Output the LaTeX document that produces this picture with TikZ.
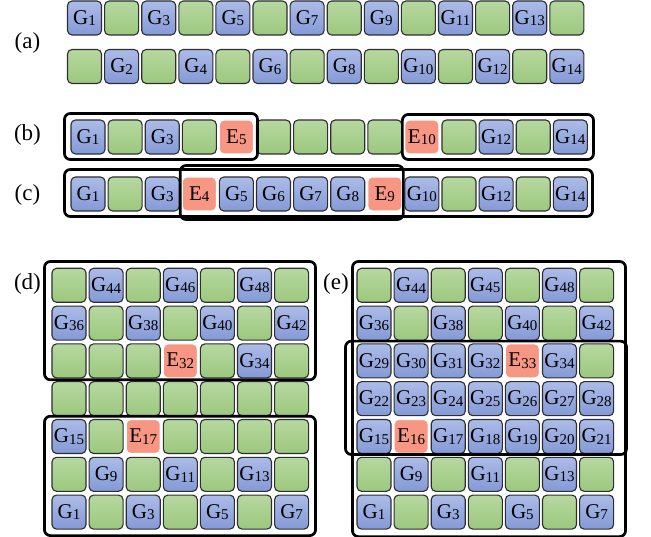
\documentclass[tikz,border=0pt]{standalone}
\usepackage{fontspec}
\setmainfont{Liberation Serif}
\definecolor{gtop}{RGB}{172,188,232}
\definecolor{gbot}{RGB}{132,153,214}
\definecolor{ntop}{RGB}{182,216,160}
\definecolor{nbot}{RGB}{156,200,126}
\definecolor{efill}{RGB}{248,150,132}
\definecolor{edge}{RGB}{45,45,50}
\newcommand\subno[1]{\raisebox{-1.5pt}{\fontsize{15}{16}\selectfont #1}}
\newcommand\labg[1]{G\subno{#1}}
\newcommand\labe[1]{E\subno{#1}}
\newcommand\labn[1]{}

\begin{document}
\begin{tikzpicture}[x=1pt,y=-1pt]
  \tikzstyle{cell}=[rounded corners=4.5pt,minimum size=34pt,inner sep=0pt,line width=1.1pt,
    font=\fontsize{21}{23}\selectfont]
  \tikzstyle{g cell}=[cell,draw=edge,top color=gtop,bottom color=gbot]
  \tikzstyle{n cell}=[cell,draw=edge,top color=ntop,bottom color=nbot]
  \tikzstyle{e cell}=[cell,draw=white,fill=efill]
  \tikzstyle{frame}=[draw=black,line width=2.7pt,rounded corners=6pt]
  \tikzstyle{tag}=[font=\fontsize{23}{25}\selectfont]
  \useasboundingbox (0,0) rectangle (651,537);

  \node[tag] (la) at (27.5,43) {(a)};
  \node[tag] (lb) at (27.5,135) {(b)};
  \node[tag] (lc) at (27.5,195) {(c)};
  \node[tag] (ld) at (27.5,284) {(d)};
  \node[tag] (le) at (336,284) {(e)};

  \foreach \i in {1,...,14} {
    \pgfmathtruncatemacro\odd{mod(\i,2)}
    \ifnum\odd=1
      \node[g cell] (a1-\i) at ({84.5+37.1*(\i-1)},18) {\labg{\i}};
      \node[n cell] (a2-\i) at ({84.5+37.1*(\i-1)},66.5) {};
    \else
      \node[n cell] (a1-\i) at ({84.5+37.1*(\i-1)},18) {};
      \node[g cell] (a2-\i) at ({84.5+37.1*(\i-1)},66.5) {\labg{\i}};
    \fi
  }

  \foreach \t/\n [count=\i] in {g/1,n/0,g/3,n/0,e/5,n/0,n/0,n/0,n/0,e/10,n/0,g/12,n/0,g/14}
    \node[\t\space cell] (b-\i) at ({88+37.1*(\i-1)},137) {\csname lab\t\endcsname{\n}};
  \foreach \t/\n [count=\i] in {g/1,n/0,g/3,e/4,g/5,g/6,g/7,g/8,e/9,g/10,n/0,g/12,n/0,g/14}
    \node[\t\space cell] (c-\i) at ({88+37.1*(\i-1)},194) {\csname lab\t\endcsname{\n}};

  \draw[frame] ([xshift=-6pt,yshift=6pt]b-1.north west) rectangle ([xshift=3.6pt,yshift=-5pt]b-5.south east);
  \draw[frame] ([xshift=-2pt,yshift=5pt]b-10.north west) rectangle ([xshift=5.7pt,yshift=-5pt]b-14.south east);
  \draw[frame] ([xshift=-6pt,yshift=7pt]c-1.north west) rectangle ([xshift=4.7pt,yshift=-5pt]c-14.south east);
  \draw[frame] ([xshift=-1.6pt,yshift=11pt]c-4.north west) rectangle ([xshift=1pt,yshift=-8pt]c-9.south east);

  \foreach \row [count=\k] in {
      {n/0,g/44,n/0,g/46,n/0,g/48,n/0},
      {g/36,n/0,g/38,n/0,g/40,n/0,g/42},
      {n/0,n/0,n/0,e/32,n/0,g/34,n/0},
      {n/0,n/0,n/0,n/0,n/0,n/0,n/0},
      {g/15,n/0,e/17,n/0,n/0,n/0,n/0},
      {n/0,g/9,n/0,g/11,n/0,g/13,n/0},
      {g/1,n/0,g/3,n/0,g/5,n/0,g/7}}
    \foreach \t/\n [count=\j] in \row
      \node[\t\space cell] (d\k-\j) at ({69+37.1*(\j-1)},{285.3+37.8*(\k-1)}) {\csname lab\t\endcsname{\n}};

  \draw[frame] ([xshift=-7pt,yshift=6.3pt]d1-1.north west) rectangle ([xshift=6.4pt,yshift=-1.4pt]d3-7.south east);
  \draw[frame] ([xshift=-7pt,yshift=2.8pt]d5-1.north west) rectangle ([xshift=6.4pt,yshift=-6pt]d7-7.south east);

  \foreach \row [count=\k] in {
      {n/0,g/44,n/0,g/45,n/0,g/48,n/0},
      {g/36,n/0,g/38,n/0,g/40,n/0,g/42},
      {g/29,g/30,g/31,g/32,e/33,g/34,n/0},
      {g/22,g/23,g/24,g/25,g/26,g/27,g/28},
      {g/15,e/16,g/17,g/18,g/19,g/20,g/21},
      {n/0,g/9,n/0,g/11,n/0,g/13,n/0},
      {g/1,n/0,g/3,n/0,g/5,n/0,g/7}}
    \foreach \t/\n [count=\j] in \row
      \node[\t\space cell] (e\k-\j) at ({374+37.1*(\j-1)},{285.3+37.8*(\k-1)}) {\csname lab\t\endcsname{\n}};

  \draw[frame] ([xshift=-4pt,yshift=6.3pt]e1-1.north west) rectangle ([xshift=11.4pt,yshift=-7pt]e7-7.south east);
  \draw[frame] ([xshift=-11pt,yshift=2.2pt]e3-1.north west) rectangle ([xshift=12.4pt,yshift=-0.5pt]e5-7.south east);
\end{tikzpicture}
\end{document}
